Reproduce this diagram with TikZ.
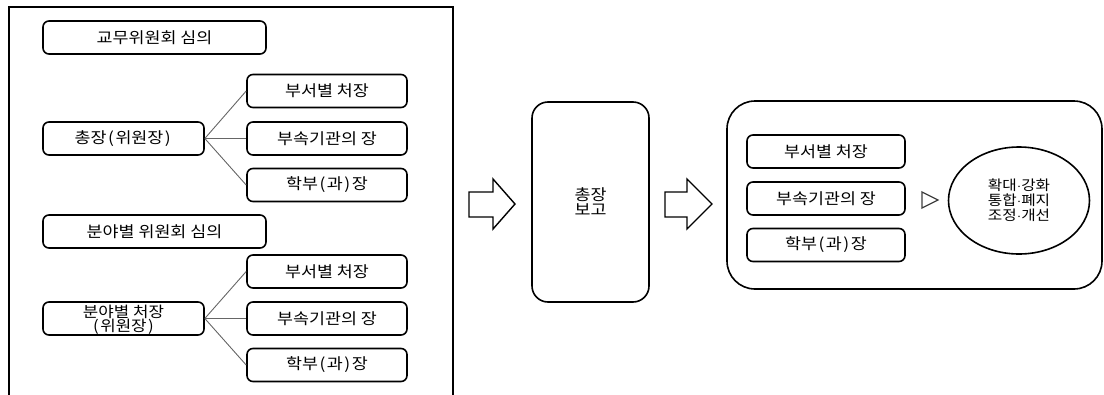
\documentclass[tikz,border=0pt]{standalone}
\usepackage{fontspec}
\setmainfont{Noto Sans CJK KR}[FakeStretch=1.12]
\usetikzlibrary{shapes.geometric}
\newcommand\mdot{\kern0.3pt$\cdot$\kern0.3pt}
\newcommand\lpar{\kern1.5pt(\kern1.5pt}
\newcommand\rpar{\kern1.5pt)\kern1.5pt}
\tikzset{
  box/.style={draw=black, line width=1.6pt, rounded corners=6pt, minimum height=33pt,
    inner sep=0pt, font=\fontsize{15.5}{15}\selectfont, text=black},
  lbl/.style={inner sep=0pt, align=center, font=\fontsize{15}{14.5}\selectfont, text=black},
  lnk/.style={draw=black!60, line width=0.9pt},
  frame/.style={draw=black, line width=1.5pt},
  blockarrow/.style={draw=black, line width=1.4pt, line join=miter}
}
\begin{document}
\begin{tikzpicture}[x=1pt,y=-1pt]
\useasboundingbox (0,0) rectangle (1104,394);
% left frame
\draw[frame] (9,396) -- (9,7) -- (453,7) -- (453,396);
% left upper group
\node[box, minimum width=223pt] (a1) at (154.5,37.5) {교무위원회 심의};
\node[box, minimum width=161pt] (r1) at (123.5,138.5) {총장\lpar 위원장\rpar};
\node[box, minimum width=160pt] (b11) at (327,91) {부서별 처장};
\node[box, minimum width=160pt] (b12) at (327,138.5) {부속기관의 장};
\node[box, minimum width=160pt] (b13) at (327,185) {학부\lpar 과\rpar 장};
\draw[lnk] (r1.east) -- (b11.west);
\draw[lnk] (r1.east) -- (b12.west);
\draw[lnk] (r1.east) -- (b13.west);
% left lower group
\node[box, minimum width=223pt] (a2) at (154.5,231.5) {분야별 위원회 심의};
\node[box, minimum width=161pt] (r2) at (123.5,318.5) {};
\node[lbl] (r2t) at (123.5,320) {분야별 처장\\\lpar 위원장\rpar};
\node[box, minimum width=160pt] (b21) at (327,271.5) {부서별 처장};
\node[box, minimum width=160pt] (b22) at (327,318.5) {부속기관의 장};
\node[box, minimum width=160pt] (b23) at (327,365) {학부\lpar 과\rpar 장};
\draw[lnk] (r2.east) -- (b21.west);
\draw[lnk] (r2.east) -- (b22.west);
\draw[lnk] (r2.east) -- (b23.west);
% block arrows
\draw[blockarrow] (469,192) -- (493,192) -- (493,179) -- (515,204) -- (493,229) -- (493,217) -- (469,217) -- cycle;
\draw[blockarrow] (665,192) -- (687,192) -- (687,179) -- (712,204) -- (687,229) -- (687,217) -- (665,217) -- cycle;
% report box
\node[box, rounded corners=16pt, minimum width=117pt, minimum height=200pt, align=center] (rep) at (590.5,202) {총장\\보고};
% big box
\node[draw=black, line width=1.6pt, rounded corners=28pt, minimum width=375pt, minimum height=188pt, inner sep=0pt] (big) at (914.5,195) {};
\node[box, minimum width=158pt] (c1) at (826,151.5) {부서별 처장};
\node[box, minimum width=158pt] (c2) at (826,198.5) {부속기관의 장};
\node[box, minimum width=158pt] (c3) at (826,245) {학부\lpar 과\rpar 장};
\draw[draw=black!75, line width=1.3pt, line join=miter] (922,192) -- (938,200) -- (922,208) -- cycle;
\node[draw=black, ellipse, line width=1.6pt, minimum width=141pt, minimum height=107pt, inner sep=0pt,
  align=center, font=\fontsize{14}{15}\selectfont] (res) at (1019,200.5) {확대\mdot 강화\\통합\mdot 폐지\\조정\mdot 개선};
\end{tikzpicture}
\end{document}
